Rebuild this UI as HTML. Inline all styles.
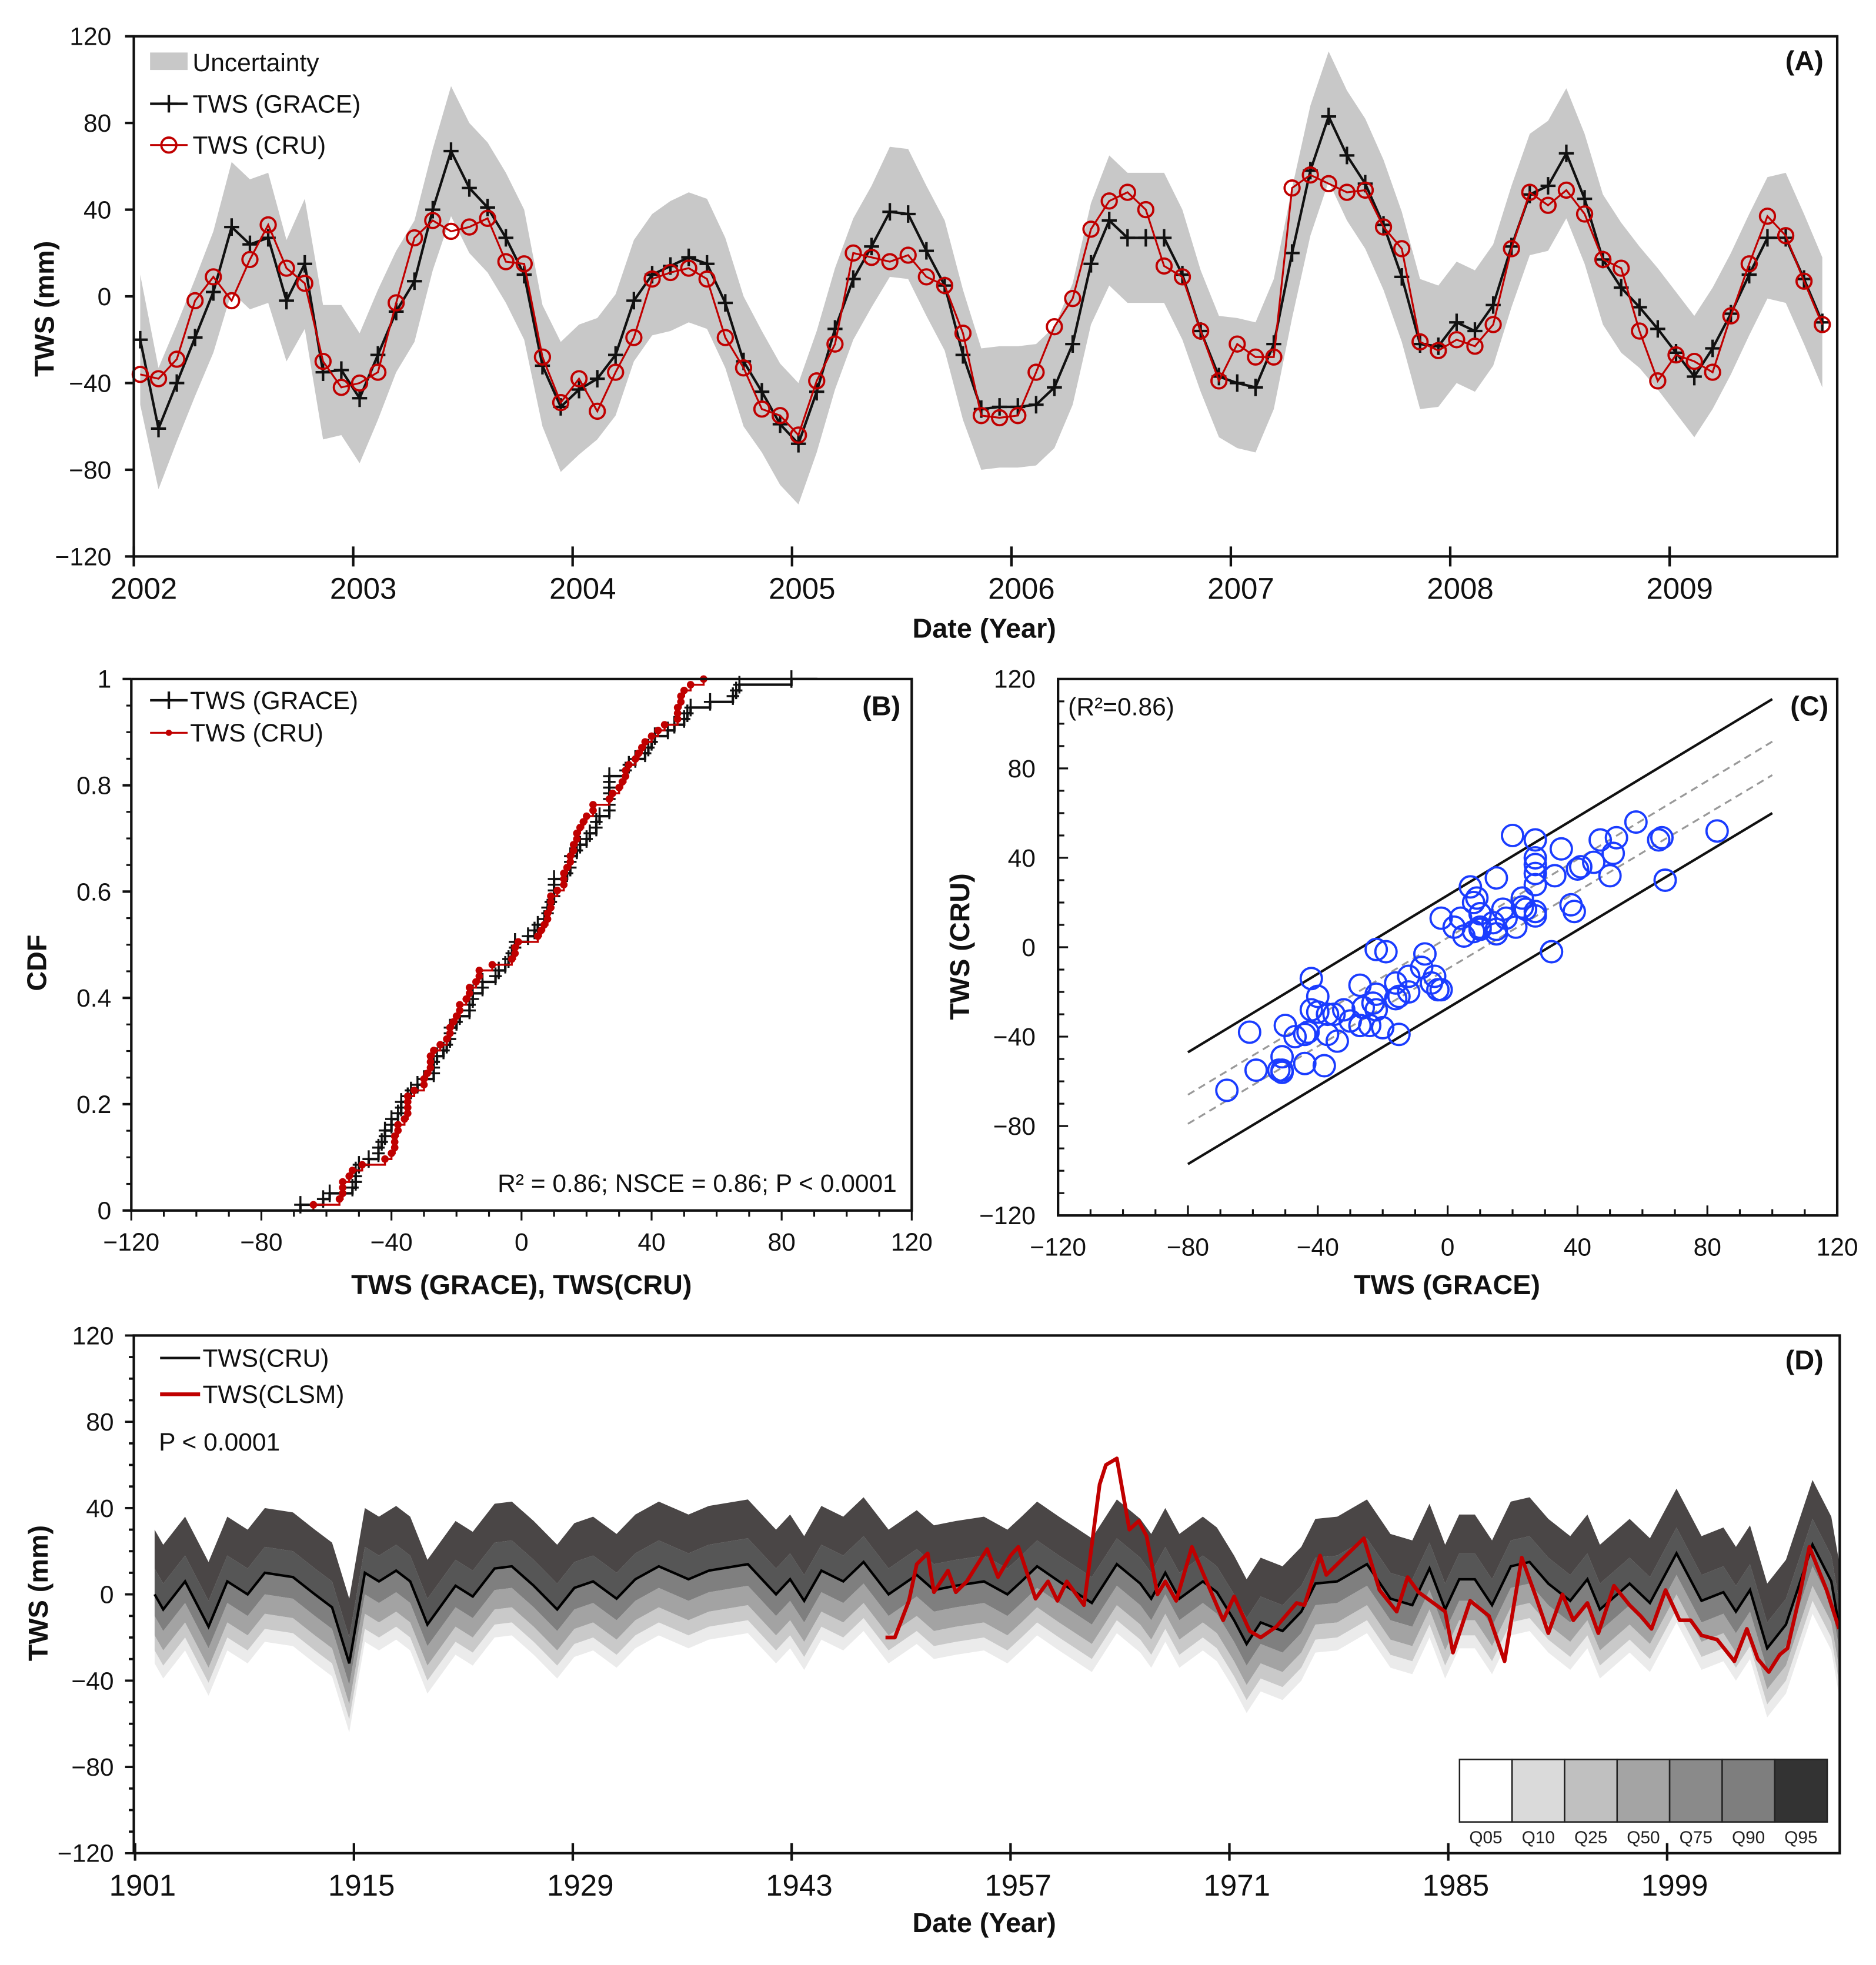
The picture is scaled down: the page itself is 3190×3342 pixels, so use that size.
<!DOCTYPE html>
<html><head><meta charset="utf-8"><style>
html,body{margin:0;padding:0;background:#fff;}
svg{display:block;font-family:"Liberation Sans",Arial,sans-serif;}
.t{font-size:20px;fill:#111;}
.b{font-size:22px;font-weight:bold;fill:#111;}
</style></head><body>
<svg id="fig" width="3190" height="3342" viewBox="0 0 1500 1571.4" preserveAspectRatio="none" xmlns="http://www.w3.org/2000/svg">
<g id="gA"></g>
<g id="gB"></g>
<g id="gC"></g>
<g id="gD"></g>
<!-- static text -->
<text class="b" x="787" y="510" text-anchor="middle">Date (Year)</text>
<text class="b" x="0" y="0" text-anchor="middle" transform="translate(43,247) rotate(-90)">TWS (mm)</text>
<text class="b" x="1458" y="56" text-anchor="end">(A)</text>
<rect x="120" y="42" width="30" height="14" fill="#c8c8c8"/>
<text class="t" x="154" y="57">Uncertainty</text>
<line x1="120" y1="83" x2="150" y2="83" stroke="#111" stroke-width="2"/>
<path d="M135 76V90M128 83H142" stroke="#111" stroke-width="2"/>
<text class="t" x="154" y="90">TWS (GRACE)</text>
<line x1="120" y1="116" x2="150" y2="116" stroke="#c00000" stroke-width="1.5"/>
<circle cx="135" cy="116" r="6" fill="none" stroke="#c00000" stroke-width="1.8"/>
<text class="t" x="154" y="123">TWS (CRU)</text>

<text class="b" x="417" y="1035" text-anchor="middle">TWS (GRACE),  TWS(CRU)</text>
<text class="b" x="0" y="0" text-anchor="middle" transform="translate(37,770) rotate(-90)">CDF</text>
<text class="b" x="720" y="572" text-anchor="end">(B)</text>
<line x1="120" y1="560" x2="150" y2="560" stroke="#111" stroke-width="2"/>
<path d="M135 553V567" stroke="#111" stroke-width="2"/>
<text class="t" x="152" y="567">TWS (GRACE)</text>
<line x1="120" y1="586" x2="150" y2="586" stroke="#c00000" stroke-width="1.5"/>
<circle cx="135" cy="586" r="2.5" fill="#c00000"/>
<text class="t" x="152" y="593">TWS (CRU)</text>
<text class="t" x="717" y="953" text-anchor="end">R² = 0.86; NSCE = 0.86; P &lt; 0.0001</text>

<text class="b" x="1157" y="1035" text-anchor="middle">TWS (GRACE)</text>
<text class="b" x="0" y="0" text-anchor="middle" transform="translate(775,757) rotate(-90)">TWS (CRU)</text>
<text class="b" x="1462" y="572" text-anchor="end">(C)</text>
<text class="t" x="854" y="572">(R²=0.86)</text>

<text class="b" x="787" y="1545" text-anchor="middle">Date (Year)</text>
<text class="b" x="0" y="0" text-anchor="middle" transform="translate(38,1274) rotate(-90)">TWS (mm)</text>
<text class="b" x="1458" y="1095" text-anchor="end">(D)</text>
<line x1="128" y1="1086" x2="160" y2="1086" stroke="#111" stroke-width="2"/>
<text class="t" x="162" y="1093">TWS(CRU)</text>
<line x1="128" y1="1115" x2="160" y2="1115" stroke="#c00000" stroke-width="3"/>
<text class="t" x="162" y="1122">TWS(CLSM)</text>
<text class="t" x="127" y="1160">P &lt; 0.0001</text>
</svg>
<script>
// ---------- DATA ----------
const startYearA = 2002;
const graceTWS = [-20,-61,-40,-19,2,32,24,27,-2,15,-35,-34,-47,-27,-7,7,40,67,50,41,27,10,-32,-51,-43,-38,-27,-2,10,14,18,15,-3,-30,-44,-59,-68,-44,-15,8,23,39,38,21,5,-27,-52,-51,-51,-50,-42,-22,15,35,27,27,27,10,-16,-37,-40,-42,-22,20,58,83,65,52,33,9,-22,-23,-12,-16,-4,23,47,51,66,45,17,4,-5,-15,-26,-37,-24,-8,10,27,27,8,-12];
const cruTWS = [-36,-38,-29,-2,9,-2,17,33,13,6,-30,-42,-40,-35,-3,27,35,30,32,36,16,15,-28,-49,-38,-53,-35,-19,8,11,13,8,-19,-33,-52,-55,-64,-39,-22,20,18,16,19,9,5,-17,-55,-56,-55,-35,-14,-1,31,44,48,40,14,9,-16,-39,-22,-28,-28,50,56,52,48,49,32,22,-21,-25,-20,-23,-13,22,48,42,49,38,17,13,-16,-39,-27,-30,-35,-9,15,37,28,7,-13];
const uncHalf = [30,28,27,27,28,30,30,30,28,30,31,30,30,30,28,28,28,30,30,30,30,30,28,30,30,28,28,28,28,30,30,30,30,30,28,28,28,28,28,28,28,30,30,30,30,30,28,28,28,28,28,28,28,30,30,30,30,30,28,28,30,30,30,30,30,30,30,30,30,30,30,28,28,28,28,28,28,30,30,30,30,30,28,28,28,28,28,28,28,28,30,30,30];
const yTicksMM = [-120,-80,-40,0,40,80,120];
const yearTicksA = [2002,2003,2004,2005,2006,2007,2008,2009];
const cdfTicks = [0,0.2,0.4,0.6,0.8,1];
const cdfTickLabels = ["0","0.2","0.4","0.6","0.8","1"];
const scatTicks = [-120,-80,-40,0,40,80,120];
const bandUpperSolid = [-47,111];
const bandLowerSolid = [-97,60];
const bandUpperDash = [-66,92];
const bandLowerDash = [-79,77];
const bandX = [-80,100];
const cruLongYears = [1902.25,1902.8,1904.2,1905.7,1906.9,1908.2,1909.3,1911.1,1912.5,1913.6,1914.7,1915.7,1916.6,1917.7,1918.6,1919.7,1921.5,1922.6,1924.0,1925.1,1926.5,1928.0,1929.1,1930.3,1931.8,1933.0,1934.5,1936.4,1937.7,1940.2,1942.0,1942.9,1943.8,1944.9,1946.3,1947.6,1949.2,1951.0,1952.1,1953.5,1955.3,1956.8,1957.7,1958.7,1960.1,1962.2,1963.8,1965.3,1966.0,1966.9,1967.8,1969.3,1970.2,1971.3,1972.1,1973.0,1974.4,1975.6,1976.5,1977.9,1979.8,1981.3,1982.7,1983.8,1984.8,1985.7,1986.7,1987.8,1989.0,1990.2,1991.4,1992.8,1993.9,1994.7,1996.6,1997.9,1999.6,2001.2,2002.6,2003.4,2004.3,2005.4,2006.6,2008.3,2009.5,2010.0];
const cruLongVals = [0,-7,6,-15,6,0,10,8,0,-6,-32,10,6,11,6,-14,4,-1,12,13,4,-7,3,6,-2,7,13,7,11,14,0,7,-3,11,6,15,0,9,2,4,6,0,6,13,6,-4,14,5,-2,10,-2,6,1,-12,-23,-13,-17,-8,5,6,14,-2,-5,12,-7,7,7,-5,13,15,5,-3,7,-7,5,-4,19,-3,1,-8,2,-25,-14,23,6,-15];
const clsmYears = [1949.0,1949.6,1950.5,1951.0,1951.7,1952.1,1953.0,1953.5,1954.2,1955.5,1956.2,1957.0,1957.5,1958.6,1959.4,1960.0,1960.6,1961.7,1962.7,1963.1,1963.8,1964.6,1965.2,1965.7,1966.4,1966.9,1967.6,1968.6,1969.3,1970.6,1971.3,1972.3,1973.0,1974.0,1975.3,1975.8,1976.8,1977.2,1978.6,1979.6,1980.6,1981.7,1982.4,1983.1,1984.8,1985.3,1986.4,1987.6,1988.6,1989.7,1990.6,1991.4,1992.3,1993.0,1993.9,1994.6,1995.6,1996.6,1997.3,1998.0,1998.9,1999.8,2000.5,2001.2,2002.2,2003.3,2004.1,2004.8,2005.5,2006.2,2006.7,2007.4,2008.1,2009.2,2010.0];
const clsmVals = [-20,-20,-3,14,19,1,11,1,6,21,8,18,22,-2,6,-3,6,-5,51,60,63,30,34,27,0,6,-3,22,10,-12,-1,-17,-20,-15,-4,-5,18,9,19,26,2,-8,8,1,-8,-27,-3,-10,-31,17,-1,-18,0,-12,-4,-18,4,-5,-10,-16,2,-12,-12,-19,-21,-31,-16,-30,-36,-28,-25,-3,22,2,-16];
const quantOffsets = [-32,-26,-19,-10,0,12,30];
const quantFills = ["#ebebeb","#c9c9c9","#a3a3a3","#7f7f7f","#565656","#4a4646"];
const yearTicksD = [1901,1915,1929,1943,1957,1971,1985,1999];
const legendQ = ["Q05","Q10","Q25","Q50","Q75","Q90","Q95"];
const legendQColors = ["#ffffff","#dadada","#c0c0c0","#a4a4a4","#8a8a8a","#7e7e7e","#333333"];

// ---------- HELPERS ----------
const NS = "http://www.w3.org/2000/svg";
function mk(tag, parent){ const e=document.createElementNS(NS,tag); parent.appendChild(e); return e; }
function setA(e,o){ for(const k in o) e.setAttribute(k,o[k]); return e; }
function lin(d0,d1,r0,r1){ return v=> r0+(v-d0)*(r1-r0)/(d1-d0); }

// ---------- PANEL A ----------
(function(){
  const g=document.getElementById('gA');
  const L=107,R=1469,T=29,B=445;
  const x=lin(2002,2009,L,1335), y=lin(-120,120,B,T);
  const tx=i=> x(startYearA+(i+0.35)/12);
  let up='',lo='';
  graceTWS.forEach((v,i)=>{ up+=(i?'L':'M')+tx(i)+' '+y(v+uncHalf[i]); });
  for(let i=graceTWS.length-1;i>=0;i--){ lo+='L'+tx(i)+' '+y(graceTWS[i]-uncHalf[i]); }
  const band=mk('path',g); setA(band,{d:up+lo+'Z',fill:'#c8c8c8'});
  
  
  const gl=mk('polyline',g); setA(gl,{points:graceTWS.map((v,i)=>tx(i)+','+y(v)).join(' '),fill:'none',stroke:'#111','stroke-width':2});
  
  
  graceTWS.forEach((v,i)=>{ const p=mk('path',g); setA(p,{d:`M${tx(i)-6} ${y(v)}H${tx(i)+6}M${tx(i)} ${y(v)-7}V${y(v)+7}`,stroke:'#111','stroke-width':2});
    
     });
  const cl=mk('polyline',g); setA(cl,{points:cruTWS.map((v,i)=>tx(i)+','+y(v)).join(' '),fill:'none',stroke:'#c00000','stroke-width':1.5});
  
  
  cruTWS.forEach((v,i)=>{ const c=mk('circle',g); setA(c,{cx:tx(i),cy:y(v),r:6,fill:'none',stroke:'#c00000','stroke-width':1.8});
    
     });
  const fr=mk('rect',g); setA(fr,{x:L,y:T,width:R-L,height:B-T,fill:'none',stroke:'#111','stroke-width':2});
  
  
  yTicksMM.forEach(v=>{ const l=mk('line',g); setA(l,{x1:L-7,x2:L,y1:y(v),y2:y(v),stroke:'#111','stroke-width':2});
    
    
    const t=mk('text',g); setA(t,{x:L-18,y:y(v)+7,'text-anchor':'end',class:'t'}); t.textContent=(v<0?'\u2212'+(-v):v);
    
     });
  yearTicksA.forEach(v=>{ const l=mk('line',g); setA(l,{x1:x(v),x2:x(v),y1:B-8,y2:B+8,stroke:'#111','stroke-width':2});
    
    
    const t=mk('text',g); setA(t,{x:x(v)+8,y:B+34,'text-anchor':'middle',class:'t','font-size':24}); t.style.fontSize='24px'; t.textContent=v;
    
     });
})();

// ---------- PANEL B ----------
(function(){
  const g=document.getElementById('gB');
  const L=105,R=729,T=543,B=968;
  const x=lin(-120,120,L,R), y=lin(0,1,B,T);
  function cdf(arr,color,isGrace,nm){
    const s=arr.slice().sort((a,b)=>a-b), n=s.length;
    let d='M'+x(s[0])+' '+y(0);
    s.forEach((v,i)=>{ d+='L'+x(v)+' '+y(i/n)+'L'+x(v)+' '+y((i+1)/n); });
    if(isGrace) d+='L'+x(s[n-1]+8)+' '+y(1);
    const p=mk('path',g); setA(p,{d:d,fill:'none',stroke:color,'stroke-width':isGrace?2:1.6});
    
    
    s.forEach((v,i)=>{
      if(isGrace){ const m=mk('path',g); setA(m,{d:`M${x(v)} ${y((i+1)/n)-7}V${y((i+1)/n)+7}M${x(v)-5} ${y((i+1)/n)}H${x(v)+5}`,stroke:color,'stroke-width':1.6});
        
         }
      else { const m=mk('circle',g); setA(m,{cx:x(v),cy:y((i+1)/n),r:3,fill:color});
        
         }
    });
  }
  cdf(graceTWS,'#111',true,'grace');
  cdf(cruTWS,'#c00000',false,'cru');
  const ax=mk('path',g); setA(ax,{d:`M${L} ${T}V${B}H${R}V${T}H${L}`,fill:'none',stroke:'#111','stroke-width':2});
  
  
  cdfTicks.forEach((v,i)=>{ const l=mk('line',g); setA(l,{x1:L-7,x2:L,y1:y(v),y2:y(v),stroke:'#111','stroke-width':2});
    
    
    const t=mk('text',g); setA(t,{x:L-16,y:y(v)+7,'text-anchor':'end',class:'t'}); t.textContent=cdfTickLabels[i];
    
     });
  for(let v=-120;v<=120;v+=10){ const l=mk('line',g); setA(l,{x1:x(v),x2:x(v),y1:B,y2:B+(v%40===0?8:5),stroke:'#111','stroke-width':1.5});
    
     }
  for(let v=0;v<=1.0001;v+=0.05){ const l=mk('line',g); setA(l,{x1:L-4,x2:L,y1:y(v),y2:y(v),stroke:'#111','stroke-width':1.5});
    
     }
  scatTicks.forEach(v=>{ const t=mk('text',g); setA(t,{x:x(v),y:B+32,'text-anchor':'middle',class:'t'}); t.textContent=(v<0?'\u2212'+(-v):v);
    
     });
})();

// ---------- PANEL C ----------
(function(){
  const g=document.getElementById('gC');
  const L=846,R=1469,T=543,B=972;
  const x=lin(-120,120,L,R), y=lin(-120,120,B,T);
  [[bandUpperSolid,'solid'],[bandLowerSolid,'solid'],[bandUpperDash,'dash'],[bandLowerDash,'dash']].forEach(([b,k])=>{
    const l=mk('line',g); setA(l,{x1:x(bandX[0]),y1:y(b[0]),x2:x(bandX[1]),y2:y(b[1]),stroke:k==='solid'?'#111':'#999','stroke-width':k==='solid'?2:1.5});
    if(k==='dash') l.setAttribute('stroke-dasharray','6 4');
    
     });
  graceTWS.forEach((v,i)=>{ const c=mk('circle',g); setA(c,{cx:x(v),cy:y(cruTWS[i]),r:8.5,fill:'none',stroke:'#1a3cff','stroke-width':1.8});
    
     });
  const fr=mk('rect',g); setA(fr,{x:L,y:T,width:R-L,height:B-T,fill:'none',stroke:'#111','stroke-width':2});
  
  
  for(let v=-120;v<=120;v+=10){
    const l=mk('line',g); setA(l,{x1:x(v),x2:x(v),y1:B,y2:B-(v%40===0?8:5),stroke:'#111','stroke-width':1.5});
    
    
    const m=mk('line',g); setA(m,{x1:L,x2:L+(v%40===0?8:5),y1:y(v),y2:y(v),stroke:'#111','stroke-width':1.5});
    
     }
  scatTicks.forEach(v=>{ const lab=(v<0?'\u2212'+(-v):''+v);
    const t=mk('text',g); setA(t,{x:x(v),y:B+32,'text-anchor':'middle',class:'t'}); t.textContent=lab;
    
    
    const u=mk('text',g); setA(u,{x:L-18,y:y(v)+7,'text-anchor':'end',class:'t'}); u.textContent=lab;
    
     });
})();

// ---------- PANEL D ----------
(function(){
  const g=document.getElementById('gD');
  const L=107,R=1471,T=1068,B=1482;
  const x=lin(1901,1999,108,108+98*12.5), y=lin(-120,120,B,T);
  for(let k=0;k<quantFills.length;k++){
    let d='';
    cruLongYears.forEach((yr,i)=>{ d+=(i?'L':'M')+x(yr)+' '+y(cruLongVals[i]+quantOffsets[k+1]); });
    for(let i=cruLongYears.length-1;i>=0;i--) d+='L'+x(cruLongYears[i])+' '+y(cruLongVals[i]+quantOffsets[k]);
    const p=mk('path',g); setA(p,{d:d+'Z',fill:quantFills[k]});
    
     }
  const cl=mk('polyline',g); setA(cl,{points:cruLongYears.map((yr,i)=>x(yr)+','+y(cruLongVals[i])).join(' '),fill:'none',stroke:'#000','stroke-width':2});
  
  
  const rl=mk('polyline',g); setA(rl,{points:clsmYears.map((yr,i)=>x(yr)+','+y(clsmVals[i])).join(' '),fill:'none',stroke:'#c00000','stroke-width':3,'stroke-linejoin':'round'});
  
  
  const fr=mk('rect',g); setA(fr,{x:L,y:T,width:R-L,height:B-T,fill:'none',stroke:'#111','stroke-width':2});
  
  
  for(let v=-120;v<=120;v+=10){ const l=mk('line',g); setA(l,{x1:L-(v%40===0?7:4),x2:L,y1:y(v),y2:y(v),stroke:'#111','stroke-width':1.8});
    
     }
  yTicksMM.forEach(v=>{ const t=mk('text',g); setA(t,{x:L-16,y:y(v)+7,'text-anchor':'end',class:'t'}); t.textContent=(v<0?'\u2212'+(-v):v);
    
     });
  yearTicksD.forEach(v=>{ const l=mk('line',g); setA(l,{x1:x(v),x2:x(v),y1:B-8,y2:B+6,stroke:'#111','stroke-width':2});
    
    
    const t=mk('text',g); setA(t,{x:x(v)+6,y:B+34,'text-anchor':'middle',class:'t'}); t.style.fontSize='24px'; t.textContent=v;
    
     });
  const lx=1167, lw=(1461-1167)/legendQ.length;
  legendQ.forEach((q,i)=>{ const r=mk('rect',g); setA(r,{x:lx+i*lw,y:1407,width:lw,height:50,fill:legendQColors[i],stroke:'#222','stroke-width':1.2});
    
    
    const t=mk('text',g); setA(t,{x:lx+i*lw+lw/2,y:1474,'text-anchor':'middle'}); t.style.fontSize='14px'; t.style.fill='#222'; t.textContent=q;
    
     });
})();
</script>
</body></html>
